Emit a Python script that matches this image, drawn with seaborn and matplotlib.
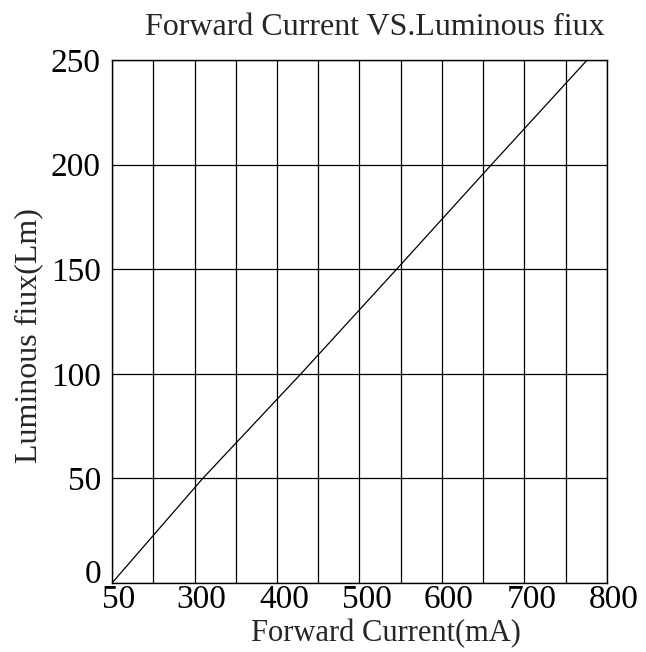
import matplotlib
matplotlib.use("Agg")
import matplotlib.pyplot as plt
import matplotlib.transforms as mtransforms
import pandas as pd
import seaborn as sns

# values
current = [200, 310, 429, 545, 660, 776]
flux = [0, 50, 100, 150, 200, 250]
x_ticks = [200, 300, 400, 500, 600, 700, 800]
x_tick_labels = ['50', '300', '400', '500', '600', '700', '800']
x_grid = list(range(200, 801, 50))
y_ticks = [0, 50, 100, 150, 200, 250]

sns.set_style('white')
plt.rcParams['font.family'] = ['Liberation Serif', 'DejaVu Serif']

df = pd.DataFrame({'current': current, 'flux': flux})

fig = plt.figure(figsize=(6.46, 6.52), dpi=100)
ax = fig.add_axes([0.1734, 0.1058, 0.9396 - 0.1734, 0.908 - 0.1058])

for xv in x_grid:
    ax.axvline(xv, color='black', lw=0.9, zorder=1)
for yv in y_ticks:
    ax.axhline(yv, color='black', lw=0.9, zorder=1)

sns.lineplot(data=df, x='current', y='flux', color='black', lw=0.9, ax=ax, zorder=2)

ax.set_xlim(200, 800)
ax.set_ylim(0, 250)
ax.set_xticks(x_ticks)
ax.set_xticklabels(x_tick_labels)
ax.set_yticks(y_ticks)
ax.tick_params(axis='both', length=0, labelsize=24, colors='black')
ax.tick_params(axis='x', pad=1)
ax.tick_params(axis='y', pad=8)

# labels sit a little right of their grid lines
offset = mtransforms.ScaledTranslation(0.07, 0, fig.dpi_scale_trans)
for lab in ax.get_xticklabels():
    lab.set_transform(lab.get_transform() + offset)
ax.get_yticklabels()[0].set_va('baseline')

for s in ax.spines.values():
    s.set_color('black')
    s.set_linewidth(1.0)

ax.set_xlabel('Forward Current(mA)', fontsize=22)
ax.xaxis.set_label_coords(0.554, -0.068)
ax.set_ylabel('Luminous fiux(Lm)', fontsize=23)
ax.yaxis.set_label_coords(-0.14, 0.474)
ax.set_title('Forward Current VS.Luminous fiux', fontsize=23, x=0.531, pad=18)

fig.savefig('out.png', dpi=100)
